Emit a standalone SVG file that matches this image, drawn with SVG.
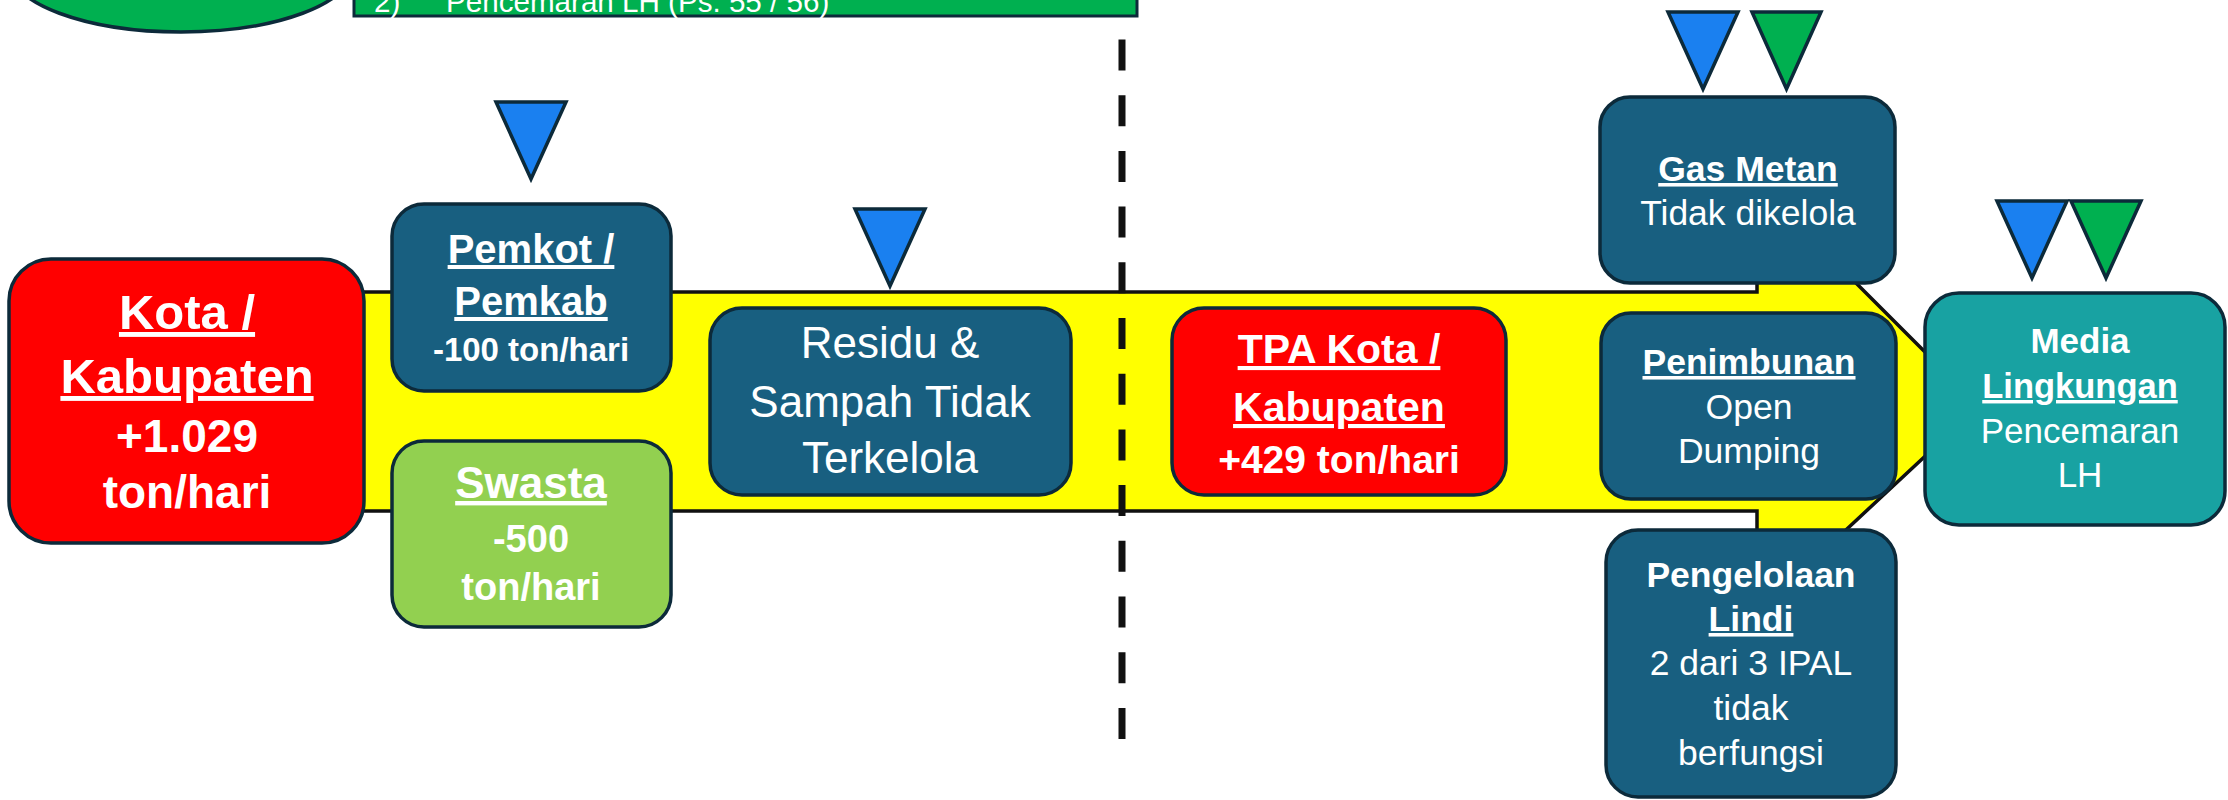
<svg xmlns="http://www.w3.org/2000/svg" width="2228" height="800" viewBox="0 0 2228 800">
<style>
.node{stroke:#0c2a3a;stroke-width:3.5}
.red{fill:#ff0000}
.teal{fill:#185f80}
.lgreen{fill:#92d050}
.cyan{fill:#18a2a2}
.tri{stroke:#0c2a3a;stroke-width:3.5;stroke-linejoin:miter}
.blue{fill:#1a80f0}
.green{fill:#00b050}
text{font-family:"Liberation Sans",Arial,sans-serif;fill:#ffffff;text-anchor:middle}
.b{font-weight:bold}
.u{text-decoration:underline}
</style>
<g id="top-ellipse"><ellipse cx="181" cy="-32" rx="172" ry="64" fill="#00b050" stroke="#0c2a3a" stroke-width="3.5"/></g>
<g id="top-note">
<rect x="354" y="-40" width="783" height="56" fill="#00b050" stroke="#0c2a3a" stroke-width="3"/>
<text x="374" y="12" style="text-anchor:start;font-size:29.6px"><tspan x="374">2)</tspan><tspan x="446">Pencemaran LH (Ps. 55 / 56)</tspan></text>
</g>
<g id="connectors">
<path d="M300,292 H1757 V270 H1843 L1979,406 L1833,542 H1757 V511 H300 Z" fill="#ffff00" stroke="#111" stroke-width="3.5" stroke-linejoin="miter"/>
</g>
<g id="divider"><line x1="1122" y1="39.5" x2="1122" y2="739" stroke="#111" stroke-width="7" stroke-dasharray="31 24.7"/></g>
<g id="kota">
<rect class="node red" x="9" y="259" width="355" height="284" rx="42"/>
<text class="b u" x="187" y="329" font-size="49">Kota /</text>
<text class="b u" x="187" y="393" font-size="49">Kabupaten</text>
<text class="b" x="187" y="452" font-size="46">+1.029</text>
<text class="b" x="187" y="508" font-size="46">ton/hari</text>
</g>
<g id="pemkot">
<rect class="node teal" x="392" y="204" width="279" height="187" rx="32"/>
<text class="b u" x="531" y="263" font-size="40">Pemkot /</text>
<text class="b u" x="531" y="315" font-size="40">Pemkab</text>
<text class="b" x="531" y="361" font-size="33">-100 ton/hari</text>
</g>
<g id="swasta">
<rect class="node lgreen" x="392" y="441" width="279" height="186" rx="32"/>
<text class="b u" x="531" y="498" font-size="44">Swasta</text>
<text class="b" x="531" y="552" font-size="38">-500</text>
<text class="b" x="531" y="600" font-size="38">ton/hari</text>
</g>
<g id="residu">
<rect class="node teal" x="710" y="308" width="361" height="187" rx="32"/>
<text x="890" y="358" font-size="44">Residu &amp;</text>
<text x="890" y="417" font-size="44">Sampah Tidak</text>
<text x="890" y="473" font-size="44">Terkelola</text>
</g>
<g id="tpa">
<rect class="node red" x="1172" y="308" width="334" height="187" rx="32"/>
<text class="b u" x="1339" y="363" font-size="41">TPA Kota /</text>
<text class="b u" x="1339" y="421" font-size="41">Kabupaten</text>
<text class="b" x="1339" y="473" font-size="39">+429 ton/hari</text>
</g>
<g id="gas-metan">
<rect class="node teal" x="1600" y="97" width="295" height="186" rx="30"/>
<text class="b u" x="1748" y="181" font-size="35.5">Gas Metan</text>
<text x="1748" y="225" font-size="35.5">Tidak dikelola</text>
</g>
<g id="penimbunan">
<rect class="node teal" x="1601" y="313" width="295" height="186" rx="30"/>
<text class="b u" x="1749" y="374" font-size="35.5">Penimbunan</text>
<text x="1749" y="419" font-size="35.5">Open</text>
<text x="1749" y="463" font-size="35.5">Dumping</text>
</g>
<g id="lindi">
<rect class="node teal" x="1606" y="530" width="290" height="267" rx="32"/>
<text class="b" x="1751" y="587" font-size="35.5">Pengelolaan</text>
<text class="b u" x="1751" y="631" font-size="35.5">Lindi</text>
<text x="1751" y="675" font-size="35.5">2 dari 3 IPAL</text>
<text x="1751" y="720" font-size="35.5">tidak</text>
<text x="1751" y="765" font-size="35.5">berfungsi</text>
</g>
<g id="media">
<rect class="node cyan" x="1925" y="293" width="300" height="232" rx="34"/>
<text class="b" x="2080" y="353" font-size="35">Media</text>
<text class="b u" x="2080" y="398" font-size="34.5">Lingkungan</text>
<text x="2080" y="443" font-size="35">Pencemaran</text>
<text x="2080" y="487" font-size="35">LH</text>
</g>
<g id="markers">
<polygon class="tri blue" points="496,102 566,102 531,179"/>
<polygon class="tri blue" points="855,209 925,209 890,286"/>
<polygon class="tri blue" points="1668,12 1738,12 1703,89"/>
<polygon class="tri green" points="1752,12 1821,12 1786.5,89"/>
<polygon class="tri blue" points="1997,201 2067,201 2032,278"/>
<polygon class="tri green" points="2071,201 2141,201 2106,278"/>
</g>
</svg>
